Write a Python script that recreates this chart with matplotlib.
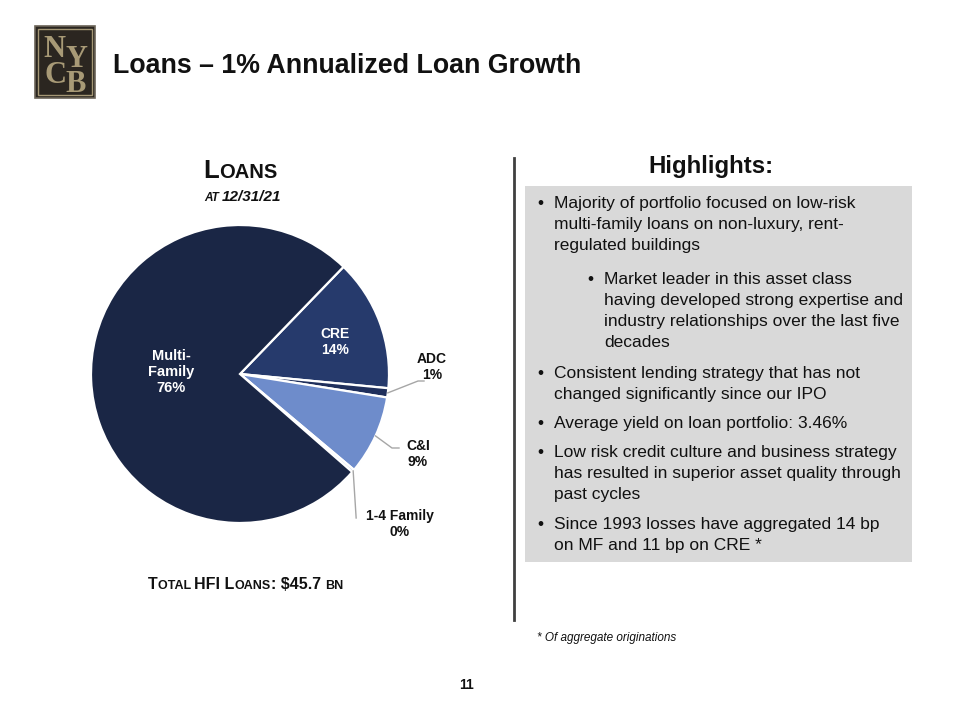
import matplotlib
matplotlib.use("Agg")
import matplotlib.pyplot as plt
from matplotlib.patches import Rectangle
from matplotlib.transforms import IdentityTransform
import numpy as np

plt.rcParams['font.family'] = ['Liberation Sans', 'DejaVu Sans']

# ---- data ----
categories = ["CRE", "ADC", "C&I", "1-4 Family", "Multi-Family"]
label_text = ["CRE", "ADC", "C&I", "1-4 Family", "Multi-\nFamily"]
shares = [14.3, 1.0, 8.6, 0.3, 75.8]
colors = ["#263a6c", "#1f2f5c", "#6e8ccb", "#c9d5ee", "#1a2645"]
total_hfi = "$45.7"

highlights = [
    (0, ["Majority of portfolio focused on low-risk",
         "multi-family loans on non-luxury, rent-",
         "regulated buildings"]),
    (1, ["Market leader in this asset class",
         "having developed strong expertise and",
         "industry relationships over the last five",
         "decades"]),
    (0, ["Consistent lending strategy that has not",
         "changed significantly since our IPO"]),
    (0, ["Average yield on loan portfolio: 3.46%"]),
    (0, ["Low risk credit culture and business strategy",
         "has resulted in superior asset quality through",
         "past cycles"]),
    (0, ["Since 1993 losses have aggregated 14 bp",
         "on MF and 11 bp on CRE *"]),
]
para_top = [208, 284, 378, 428, 457, 529]  # baseline of first line per paragraph (px from top)

W, H = 960, 720
fig = plt.figure(figsize=(9.6, 7.2), dpi=100)
fig.patch.set_facecolor("white")
IT = IdentityTransform()

def P(x, y):
    return (x, H - y)

def ftext(x, y, s, **kw):
    return fig.text(x, H - y, s, transform=IT, **kw)

# ---- logo ----
fig.patches.append(Rectangle(P(35, 98), 60, 72, transform=IT, facecolor="#2b2620",
                             edgecolor="#6b6458", linewidth=1.2, zorder=1))
fig.patches.append(Rectangle(P(38, 95), 54, 66, transform=IT, facecolor="none",
                             edgecolor="#a59775", linewidth=1.0, zorder=2))
logo_kw = dict(family=['Liberation Serif', 'DejaVu Serif'], color="#a89a76",
               fontsize=22, fontweight='bold', ha='center', va='baseline', zorder=3)
ftext(54, 57, "N", **logo_kw)
ftext(76, 67, "Y", **logo_kw)
ftext(55, 83, "C", **logo_kw)
ftext(76, 92, "B", **logo_kw)

# ---- title ----
ftext(113, 73, "Loans \u2013 1% Annualized Loan Growth", fontsize=19.3, fontweight='bold',
      ha='left', va='baseline', color="#111111")

# ---- small-caps helper ----
def smallcaps(pieces, xc, y, **kw):
    r = fig.canvas.get_renderer()
    texts, widths = [], []
    for s, size in pieces:
        t = fig.text(0, 0, s.replace(" ", "\u00a0"), fontsize=size, transform=IT,
                     ha='left', va='baseline', **kw)
        widths.append(t.get_window_extent(r).width)
        texts.append(t)
    x = xc - sum(widths) / 2
    for t, w in zip(texts, widths):
        t.set_position((x, H - y))
        x += w

smallcaps([("L", 18.5), ("OANS", 14.5)], 240, 178, fontweight='bold', color="#111111")
smallcaps([("AT ", 8.5), ("12/31/21", 11)], 243, 201, fontweight='bold',
          fontstyle='italic', color="#111111")
smallcaps([("T", 11.5), ("OTAL ", 9), ("HFI L", 11.5), ("OANS", 9),
           (": " + total_hfi + " ", 11.5), ("BN", 9)], 246, 589,
          fontweight='bold', color="#111111")

# ---- pie ----
cx, cy, R = 240, 374, 149
ax = fig.add_axes([(cx - R) / W, (H - cy - R) / H, 2 * R / W, 2 * R / H])
wedges, _ = ax.pie(shares, colors=colors, startangle=46, counterclock=False, radius=1,
                   wedgeprops=dict(edgecolor="white", linewidth=1.6))
ax.set_xlim(-1, 1)
ax.set_ylim(-1, 1)
ax.set_aspect('equal')
ax.axis('off')

def d(px, py):
    return ((px - cx) / R, (cy - py) / R)

pcts = ["{:.0f}%".format(v) for v in shares]
lab_kw = dict(fontsize=10, fontweight='bold', ha='center', va='center', linespacing=1.15)
# inside labels
ax.text(*d(171, 372), label_text[4] + "\n" + pcts[4], color="white",
        **dict(lab_kw, fontsize=10.5))
ax.text(*d(335, 342), label_text[0] + "\n" + pcts[0], color="white", **lab_kw)
# outside labels
ax.text(*d(432, 367), label_text[1] + "\n" + pcts[1], color="#111111", clip_on=False, **lab_kw)
ax.text(*d(418, 454), label_text[2] + "\n" + pcts[2], color="#111111", clip_on=False, **lab_kw)
ax.text(*d(400, 524), label_text[3] + "\n" + pcts[3], color="#111111", clip_on=False, **lab_kw)

def mid_point(w):
    th = np.deg2rad((w.theta1 + w.theta2) / 2)
    return np.cos(th), np.sin(th)

lc = dict(color="#a6a6a6", linewidth=1.0, clip_on=False)
s = mid_point(wedges[1])
ax.plot([s[0], d(418, 381)[0], d(424, 381)[0]], [s[1], d(418, 381)[1], d(424, 381)[1]], **lc)
s = mid_point(wedges[2])
ax.plot([s[0], d(392, 448)[0], d(399, 448)[0]], [s[1], d(392, 448)[1], d(399, 448)[1]], **lc)
s = mid_point(wedges[3])
ax.plot([s[0], s[0] + 0.02], [s[1], d(0, 518)[1]], **lc)

# ---- divider ----
fig.lines.append(plt.Line2D([514, 514], [H - 158, H - 620], transform=IT,
                            color="#404040", linewidth=2))

# ---- highlights ----
ftext(711, 173, "Highlights:", fontsize=17.3, fontweight='bold', ha='center',
      va='baseline', color="#111111")
fig.patches.append(Rectangle(P(525, 562), 387, 376, transform=IT,
                             facecolor="#d9d9d9", edgecolor="none", zorder=0))
for (lvl, lines), y0 in zip(highlights, para_top):
    bx = 540 + 50 * lvl
    tx = 554 + 50 * lvl
    ftext(bx, y0, "\u2022", fontsize=12.5, ha='center', va='baseline', color="#111111")
    for i, line in enumerate(lines):
        ftext(tx, y0 + 21 * i, line, fontsize=12.5, ha='left', va='baseline', color="#111111")

ftext(537, 641, "* Of aggregate originations", fontsize=8.5, fontstyle='italic',
      ha='left', va='baseline', color="#111111")
ftext(466, 689, "11", fontsize=10, fontweight='bold', ha='center', va='baseline',
      color="#111111")

fig.savefig("out.png", dpi=100)
